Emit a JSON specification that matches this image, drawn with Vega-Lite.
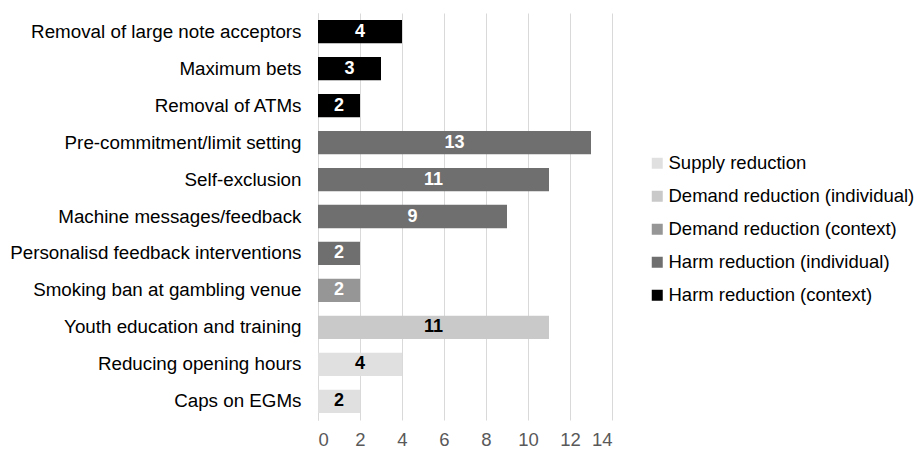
{
  "$schema": "https://vega.github.io/schema/vega-lite/v6.json",
  "autosize": "none",
  "width": 294,
  "height": 407,
  "padding": {"left": 318, "top": 13, "right": 309, "bottom": 29},
  "background": "white",
  "config": {"view": {"stroke": null}, "font": "Liberation Sans"},
  "data": {"values": [
    {"item": "Removal of large note acceptors", "count": 4, "category": "Harm reduction (context)"},
    {"item": "Maximum bets", "count": 3, "category": "Harm reduction (context)"},
    {"item": "Removal of ATMs", "count": 2, "category": "Harm reduction (context)"},
    {"item": "Pre-commitment/limit setting", "count": 13, "category": "Harm reduction (individual)"},
    {"item": "Self-exclusion", "count": 11, "category": "Harm reduction (individual)"},
    {"item": "Machine messages/feedback", "count": 9, "category": "Harm reduction (individual)"},
    {"item": "Personalisd feedback interventions", "count": 2, "category": "Harm reduction (individual)"},
    {"item": "Smoking ban at gambling venue", "count": 2, "category": "Demand reduction (context)"},
    {"item": "Youth education and training", "count": 11, "category": "Demand reduction (individual)"},
    {"item": "Reducing opening hours", "count": 4, "category": "Supply reduction"},
    {"item": "Caps on EGMs", "count": 2, "category": "Supply reduction"}
  ]},
  "encoding": {
    "y": {"field": "item", "type": "nominal", "sort": null, "title": null,
      "scale": {"paddingInner": 0.37, "paddingOuter": 0.19},
      "axis": {"domain": true, "domainColor": "#d9d9d9", "ticks": false, "labelFontSize": 18.8, "labelColor": "#000000", "labelPadding": 17, "labelLimit": 400}}
  },
  "layer": [
    {
      "mark": {"type": "bar"},
      "encoding": {
        "x": {"field": "count", "type": "quantitative", "title": null,
          "scale": {"domain": [0, 14], "nice": false},
          "axis": {"values": [0, 2, 4, 6, 8, 10, 12, 14], "domain": false, "ticks": false, "grid": true, "gridColor": "#d9d9d9", "labelFontSize": 18.5, "labelColor": "#595959", "labelPadding": 10}},
        "color": {"field": "category", "type": "nominal", "title": null,
          "scale": {"domain": ["Supply reduction", "Demand reduction (individual)", "Demand reduction (context)", "Harm reduction (individual)", "Harm reduction (context)"],
            "range": ["#e0e0e0", "#c9c9c9", "#969696", "#6f6f6f", "#000000"]},
          "legend": {"orient": "none", "legendX": 330, "legendY": 141, "symbolType": "square", "symbolSize": 121, "symbolStrokeWidth": 0, "labelFontSize": 18.5, "labelColor": "#000000", "rowPadding": 14, "labelOffset": 2, "labelLimit": 400}}
      }
    },
    {
      "mark": {"type": "text", "fontWeight": "bold", "fontSize": 18, "baseline": "middle", "align": "center"},
      "encoding": {
        "x": {"field": "count", "type": "quantitative", "scale": {"domain": [0, 28], "nice": false}, "axis": null},
        "text": {"field": "count", "type": "quantitative"},
        "color": {"condition": {"test": "datum.category === 'Supply reduction' || datum.category === 'Demand reduction (individual)'", "value": "#000000"}, "value": "#ffffff"}
      }
    }
  ],
  "resolve": {"scale": {"x": "independent"}, "axis": {"x": "independent"}}
}
